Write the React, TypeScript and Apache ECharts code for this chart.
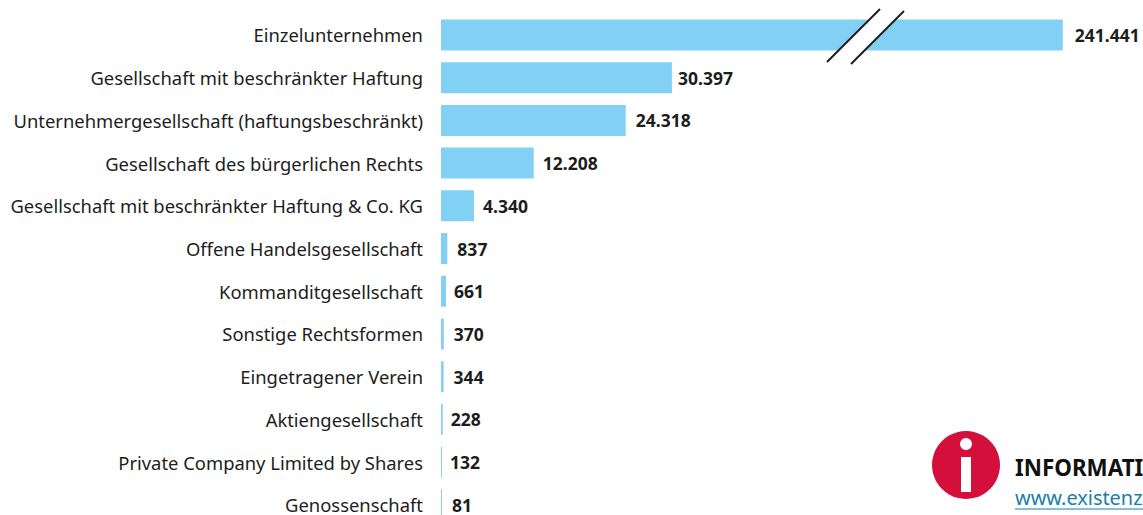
import React, { useEffect, useRef } from "react";
import * as echarts from "echarts";

const categories = [
  "Einzelunternehmen",
  "Gesellschaft mit beschränkter Haftung",
  "Unternehmergesellschaft (haftungsbeschränkt)",
  "Gesellschaft des bürgerlichen Rechts",
  "Gesellschaft mit beschränkter Haftung & Co. KG",
  "Offene Handelsgesellschaft",
  "Kommanditgesellschaft",
  "Sonstige Rechtsformen",
  "Eingetragener Verein",
  "Aktiengesellschaft",
  "Private Company Limited by Shares",
  "Genossenschaft",
];
const values = [241441, 30397, 24318, 12208, 4340, 837, 661, 370, 344, 228, 132, 81];
const labelGaps = [12, 6, 10, 9, 9, 10, 8, 10, 10, 8, 8, 10];
const FONT = "Noto Sans";
const TEXT = "#1d1d1b";

export default function App() {
  const ref = useRef<HTMLDivElement>(null);
  useEffect(() => {
    document.body.style.margin = "0";
    const chart = echarts.init(ref.current!, null, { renderer: "svg" });
    chart.setOption({
      animation: false,
      grid: { left: 441, top: 13.6, width: 702, height: 512.6, containLabel: false, outerBoundsMode: "none" },
      xAxis: {
        type: "value",
        min: 0,
        max: 252000,
        show: false,
        splitLine: { show: false },
        breaks: [{ start: 60000, end: 219600, gap: 0 }],
        breakArea: { show: false },
      },
      yAxis: {
        type: "category",
        inverse: true,
        data: categories,
        axisLine: { show: false },
        axisTick: { show: false },
        axisLabel: { margin: 18, color: TEXT, fontFamily: FONT, fontSize: 18.4, lineHeight: 18 },
      },
      series: [
        {
          type: "bar",
          data: values.map((value, i) => ({ value, label: { distance: labelGaps[i] } })),
          barWidth: 31,
          barMinHeight: 1,
          itemStyle: { color: "#83d0f5" },
          label: {
            show: true,
            position: "right",
            color: TEXT,
            fontFamily: FONT,
            fontSize: 17.5,
            lineHeight: 18,
            fontWeight: "bold",
            formatter: (p: any) => Number(p.value).toLocaleString("de-DE"),
          },
        },
      ],
      graphic: [
        { type: "polygon", z: 100, shape: { points: [[827, 62], [880, 9], [904, 11], [851, 64]] }, style: { fill: "#ffffff" } },
        { type: "line", z: 101, shape: { x1: 827, y1: 62, x2: 880, y2: 9 }, style: { stroke: TEXT, lineWidth: 2 } },
        { type: "line", z: 101, shape: { x1: 851, y1: 64, x2: 904, y2: 11 }, style: { stroke: TEXT, lineWidth: 2 } },
        { type: "circle", z: 100, shape: { cx: 966, cy: 465, r: 34 }, style: { fill: "#d40f3c" } },
        { type: "circle", z: 101, shape: { cx: 966, cy: 444, r: 6 }, style: { fill: "#ffffff" } },
        { type: "rect", z: 101, shape: { x: 961, y: 457, width: 10, height: 35 }, style: { fill: "#ffffff" } },
        {
          type: "text",
          z: 100,
          x: 1015,
          y: 467,
          style: { text: "INFORMATI", fill: "#111111", font: `bold 22.4px "${FONT}"`, textVerticalAlign: "middle" },
        },
        {
          type: "text",
          z: 100,
          x: 1015,
          y: 497,
          style: { text: "www.existenz", fill: "#1a7ea8", font: `19.9px "${FONT}"`, textVerticalAlign: "middle" },
        },
        { type: "line", z: 100, shape: { x1: 1015, y1: 509, x2: 1143, y2: 509 }, style: { stroke: "#1a7ea8", lineWidth: 1 } },
      ],
    });
    return () => chart.dispose();
  }, []);
  return <div ref={ref} style={{ width: 1143, height: 515, overflow: "hidden" }} />;
}
